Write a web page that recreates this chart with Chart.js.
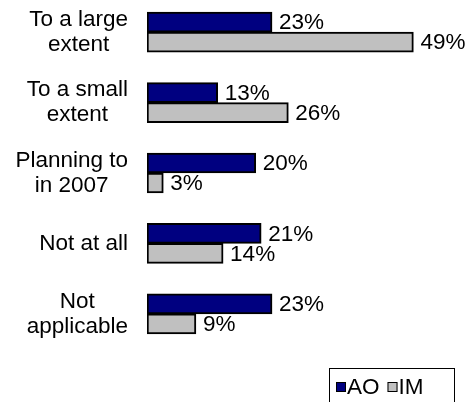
<!DOCTYPE html>
<html>
<head>
<meta charset="utf-8">
<script src="https://cdn.jsdelivr.net/npm/chart.js@4"></script>
<style>
  html, body { margin: 0; padding: 0; background: #fff; overflow: hidden; }
  #wrap { width: 467px; height: 402px; overflow: hidden; }
  #surveyChart { display: block; margin-top: -3px; }
</style>
</head>
<body>
<div id="wrap"><canvas id="surveyChart" width="467" height="405"></canvas></div>
<script>
// categories (multi-line labels) and the two series
const categories = [
    ['To a large', 'extent'],
    ['To a small', 'extent'],
    ['Planning to', 'in 2007'],
    ['Not at all'],
    ['Not', 'applicable']
];
const aoValues = [23, 13, 20, 21, 23];
const imValues = [49, 26, 3, 14, 9];
const seriesNames = ['AO', 'IM'];

const FONT = '22.5px "Liberation Sans", Arial, sans-serif';

// draws category labels, value labels and the boxed legend
const decorations = {
    id: 'decorations',
    afterDatasetsDraw(chart) {
        const c = chart.ctx;
        const yScale = chart.scales.y;
        c.save();
        c.font = FONT;
        c.fillStyle = '#000';
        c.textBaseline = 'middle';

        // category labels: block right-aligned, lines centered
        const lineH = 25;
        const rightEdge = chart.chartArea.left - 19;
        categories.forEach((lines, i) => {
            const cy = yScale.getPixelForValue(i);
            const maxW = Math.max(...lines.map(l => c.measureText(l).width));
            const cx = rightEdge - maxW / 2;
            c.textAlign = 'center';
            lines.forEach((l, j) => {
                c.fillText(l, cx, cy + (j - (lines.length - 1) / 2) * lineH);
            });
        });

        // value labels
        c.textAlign = 'left';
        chart.data.datasets.forEach((ds, di) => {
            chart.getDatasetMeta(di).data.forEach((bar, i) => {
                c.fillText(ds.data[i] + '%', bar.x + 7, bar.y + 1);
            });
        });

        // legend (canvas is shifted up by 3px)
        c.lineWidth = 1;
        c.strokeStyle = '#000';
        c.strokeRect(329.5, 371.5, 125, 40);
        let x = 336;
        chart.data.datasets.forEach(ds => {
            c.fillStyle = ds.backgroundColor;
            c.fillRect(x, 385, 10, 10);
            c.strokeRect(x + 0.5, 385.5, 9, 9);
            c.fillStyle = '#000';
            c.fillText(ds.label, x + 11, 391);
            x += 11 + c.measureText(ds.label).width + 8;
        });
        c.restore();
    }
};

const ctx = document.getElementById('surveyChart').getContext('2d');
const surveyChart = new Chart(ctx, {
    type: 'bar',
    data: {
        labels: categories,
        datasets: [{
            label: seriesNames[0],
            data: aoValues,
            backgroundColor: '#000080',
            borderColor: '#000',
            borderWidth: 2,
            borderSkipped: false
        }, {
            label: seriesNames[1],
            data: imValues,
            backgroundColor: '#C0C0C0',
            borderColor: '#000',
            borderWidth: 2,
            borderSkipped: false
        }]
    },
    options: {
        indexAxis: 'y',
        responsive: false,
        animation: false,
        barThickness: 20,
        layout: {
            padding: { left: 147, right: 21, top: 0, bottom: 53 }
        },
        plugins: {
            legend: { display: false },
            tooltip: { enabled: false }
        },
        scales: {
            x: { display: false, min: 0, max: 55 },
            y: { display: false }
        }
    },
    plugins: [decorations]
});
</script>
</body>
</html>
